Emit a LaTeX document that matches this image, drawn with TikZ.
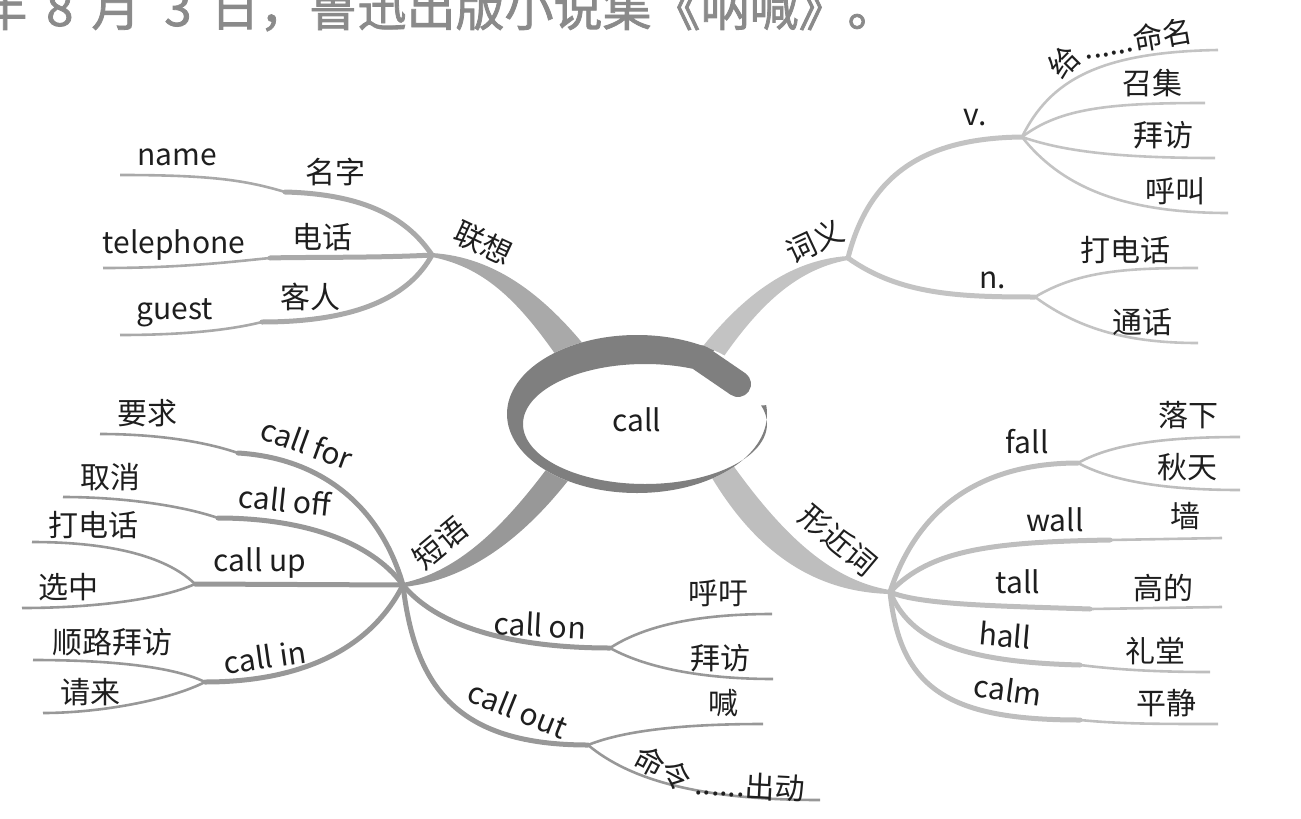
\documentclass[tikz,border=0pt]{standalone}
\usepackage{fontspec}
\setmainfont{Noto Sans CJK SC}
\newfontfamily\headfont[FakeBold=1.6]{Noto Sans CJK SC}
\usepackage{tikz}
\definecolor{MapCore}{HTML}{7F7F7F}
\definecolor{MapLian}{HTML}{A9A9A9}
\definecolor{MapCi}{HTML}{C3C3C3}
\definecolor{MapDuan}{HTML}{989898}
\definecolor{MapXing}{HTML}{BEBEBE}
\definecolor{MapInk}{HTML}{1E1E1E}
\definecolor{MapHead}{HTML}{8A8A8A}

\begin{document}
\begin{tikzpicture}[x=1pt,y=-1pt,
  lbl/.style={text=MapInk,inner sep=0pt,font=\fontsize{30}{34}\selectfont},
  limb/.style={line width=5pt,line cap=round},
  twig/.style={line width=2.6pt}
]
\useasboundingbox (0,0) rectangle (1301,819);
\node[anchor=base west,inner sep=0pt,text=MapHead,font=\headfont\fontsize{49}{52}\selectfont] (head) at (-22,26)
  {年\hspace{19pt}8\hspace{18pt}月\hspace{24pt}3\hspace{19pt}日，鲁迅出版小说集《呐喊》。};

\coordinate (c) at (637,414);
\coordinate (jLian) at (432,255);
\coordinate (jCi) at (848,258);
\coordinate (jDuan) at (403,585);
\coordinate (jXing) at (890,592);

% trunks
\fill[MapLian] (432,253) .. controls (495,257) and (548,295) .. (602,368) -- (574,382) .. controls (524,305) and (488,268) .. (432,257) -- cycle;
\fill[MapCi] (848,256) .. controls (788,260) and (738,298) .. (690,363) -- (710,377) .. controls (752,312) and (792,270) .. (848,260) -- cycle;
\fill[MapDuan] (403,583) .. controls (464,570) and (512,518) .. (562,448) -- (582,462) .. controls (532,532) and (472,580) .. (403,587) -- cycle;
\fill[MapXing] (705,466) .. controls (752,550) and (812,592) .. (890,594) -- (890,590) .. controls (828,580) and (778,530) .. (725,454) -- cycle;

% core
\fill[white] (c) ellipse [x radius=130pt,y radius=79pt];
\begin{scope}
  \clip (c) -- (900,396) -- (900,900) -- (300,900) -- (300,100) -- (900,100) -- (900,197) -- cycle;
  \fill[MapCore,even odd rule] (c) ellipse [x radius=130pt,y radius=79pt] (645,424) ellipse [x radius=122pt,y radius=60pt];
\end{scope}
\draw[MapCore,line width=26pt,line cap=round] (700,358) -- (738,384);
\node[lbl] (core) at (637,420) {call};

% lianxiang
\coordinate (kMing) at (285,192); \coordinate (eName) at (120,175);
\coordinate (kDian) at (270,258); \coordinate (eTel) at (103,268);
\coordinate (kKe) at (262,322);   \coordinate (eGuest) at (120,335);
\draw[MapLian,limb] (jLian) .. controls (405,215) and (360,194) .. (kMing);
\draw[MapLian,limb] (jLian) .. controls (380,258) and (300,257) .. (kDian);
\draw[MapLian,limb] (jLian) .. controls (410,295) and (360,322) .. (kKe);
\draw[MapLian,twig] (kMing) .. controls (245,180) and (210,175) .. (eName);
\draw[MapLian,twig] (kDian) .. controls (230,262) and (180,268) .. (eTel);
\draw[MapLian,twig] (kKe) .. controls (222,332) and (170,335) .. (eGuest);
\node[lbl,rotate=-25] (tLian) at (483,243) {联想};
\node[lbl] (tMing) at (335,172) {名字};
\node[lbl] (tName) at (177,157) {name};
\node[lbl] (tDian) at (322,237) {电话};
\node[lbl] (tTel) at (174,245) {telephone};
\node[lbl] (tKe) at (310,297) {客人};
\node[lbl] (tGuest) at (175,313) {guest};

% ciyi
\coordinate (kV) at (1022,137); \coordinate (kN) at (1035,297);
\coordinate (eGei) at (1218,50);  \coordinate (eZhao) at (1205,103);
\coordinate (eBai) at (1215,158); \coordinate (eHu) at (1228,213);
\coordinate (eDa) at (1198,268);  \coordinate (eTong) at (1198,343);
\draw[MapCi,limb] (jCi) .. controls (870,170) and (930,138) .. (kV);
\draw[MapCi,limb] (jCi) .. controls (900,295) and (960,297) .. (kN);
\draw[MapCi,twig] (kV) .. controls (1050,80) and (1100,52) .. (eGei);
\draw[MapCi,twig] (kV) .. controls (1060,108) and (1110,103) .. (eZhao);
\draw[MapCi,twig] (kV) .. controls (1060,150) and (1110,158) .. (eBai);
\draw[MapCi,twig] (kV) .. controls (1060,185) and (1120,213) .. (eHu);
\draw[MapCi,twig] (kN) .. controls (1080,270) and (1130,268) .. (eDa);
\draw[MapCi,twig] (kN) .. controls (1080,330) and (1130,343) .. (eTong);
\node[lbl,rotate=25] (tCi) at (815,241) {词义};
\node[lbl] (tV) at (975,118) {v.};
\node[lbl] (tN) at (993,280) {n.};
\node[lbl,rotate=45] (tGei) at (1064,62) {给};
\node[lbl,rotate=10] (tMingming) at (1138,39) {......命名};
\node[lbl] (tZhao) at (1152,83) {召集};
\node[lbl] (tBai) at (1163,135) {拜访};
\node[lbl] (tHu) at (1175,191) {呼叫};
\node[lbl] (tDa) at (1125,250) {打电话};
\node[lbl] (tTong) at (1142,322) {通话};

% duanyu
\coordinate (kFor) at (238,453); \coordinate (eFor) at (100,434);
\coordinate (kOff) at (218,518); \coordinate (eOff) at (63,497);
\coordinate (kUp) at (195,584);  \coordinate (eUpA) at (32,542);  \coordinate (eUpB) at (22,608);
\coordinate (kIn) at (205,682);  \coordinate (eInA) at (33,660);  \coordinate (eInB) at (43,713);
\coordinate (kOn) at (610,648);  \coordinate (eOnA) at (772,614); \coordinate (eOnB) at (773,679);
\coordinate (kOut) at (588,745); \coordinate (eOutA) at (763,724); \coordinate (eOutB) at (820,800);
\draw[MapDuan,limb] (jDuan) .. controls (380,505) and (320,458) .. (kFor);
\draw[MapDuan,limb] (jDuan) .. controls (370,540) and (300,518) .. (kOff);
\draw[MapDuan,limb] (jDuan) -- (kUp);
\draw[MapDuan,limb] (jDuan) .. controls (370,650) and (300,682) .. (kIn);
\draw[MapDuan,limb] (jDuan) .. controls (440,630) and (520,648) .. (kOn);
\draw[MapDuan,limb] (jDuan) .. controls (415,690) and (460,745) .. (kOut);
\draw[MapDuan,twig] (kFor) .. controls (200,440) and (150,434) .. (eFor);
\draw[MapDuan,twig] (kOff) .. controls (180,505) and (120,497) .. (eOff);
\draw[MapDuan,twig] (kUp) .. controls (160,550) and (90,542) .. (eUpA);
\draw[MapDuan,twig] (kUp) .. controls (160,600) and (90,608) .. (eUpB);
\draw[MapDuan,twig] (kIn) .. controls (170,665) and (100,660) .. (eInA);
\draw[MapDuan,twig] (kIn) .. controls (170,700) and (100,713) .. (eInB);
\draw[MapDuan,twig] (kOn) .. controls (650,622) and (710,614) .. (eOnA);
\draw[MapDuan,twig] (kOn) .. controls (650,670) and (710,679) .. (eOnB);
\draw[MapDuan,twig] (kOut) .. controls (630,728) and (700,724) .. (eOutA);
\draw[MapDuan,twig] (kOut) .. controls (630,780) and (700,800) .. (eOutB);
\node[lbl,rotate=40] (tDuan) at (440,543) {短语};
\node[lbl,rotate=-20] (tFor) at (307,443) {call for};
\node[lbl] (tYao) at (147,413) {要求};
\node[lbl,rotate=-6] (tOff) at (285,500) {call off};
\node[lbl] (tQu) at (110,477) {取消};
\node[lbl] (tUp) at (260,563) {call up};
\node[lbl] (tDa2) at (93,525) {打电话};
\node[lbl] (tXuan) at (68,587) {选中};
\node[lbl,rotate=8] (tIn) at (265,657) {call in};
\node[lbl] (tShun) at (112,642) {顺路拜访};
\node[lbl] (tQing) at (90,692) {请来};
\node[lbl,rotate=-3] (tOn) at (540,625) {call on};
\node[lbl] (tYu) at (718,593) {呼吁};
\node[lbl] (tBai2) at (720,658) {拜访};
\node[lbl,rotate=-22] (tOut) at (518,709) {call out};
\node[lbl] (tHan) at (723,703) {喊};
\node[lbl,rotate=-28] (tMing2) at (663,768) {命令};
\node[lbl,rotate=-3] (tChu) at (750,786) {......出动};

% xingjinci
\coordinate (kFall) at (1078,463); \coordinate (eFallA) at (1240,437); \coordinate (eFallB) at (1240,490);
\coordinate (kWall) at (1110,540); \coordinate (eWall) at (1222,538);
\coordinate (kTall) at (1090,609); \coordinate (eTall) at (1222,607);
\coordinate (kHall) at (1080,665); \coordinate (eHall) at (1210,672);
\coordinate (kCalm) at (1080,720); \coordinate (eCalm) at (1218,724);
\draw[MapXing,limb] (jXing) .. controls (920,500) and (990,463) .. (kFall);
\draw[MapXing,limb] (jXing) .. controls (930,550) and (990,542) .. (kWall);
\draw[MapXing,limb] (jXing) .. controls (920,605) and (1000,606) .. (kTall);
\draw[MapXing,limb] (jXing) .. controls (910,640) and (960,662) .. (kHall);
\draw[MapXing,limb] (jXing) .. controls (900,690) and (950,720) .. (kCalm);
\draw[MapXing,twig] (kFall) .. controls (1110,445) and (1160,437) .. (eFallA);
\draw[MapXing,twig] (kFall) .. controls (1110,480) and (1160,490) .. (eFallB);
\draw[MapXing,twig] (kWall) -- (eWall);
\draw[MapXing,twig] (kTall) -- (eTall);
\draw[MapXing,twig] (kHall) .. controls (1120,670) and (1160,672) .. (eHall);
\draw[MapXing,twig] (kCalm) .. controls (1120,724) and (1160,724) .. (eCalm);
\node[lbl,rotate=-40] (tXing) at (838,540) {形近词};
\node[lbl] (tFall) at (1027,442) {fall};
\node[lbl] (tLuo) at (1188,415) {落下};
\node[lbl] (tQiu) at (1187,467) {秋天};
\node[lbl] (tWall) at (1055,520) {wall};
\node[lbl] (tQiang) at (1185,516) {墙};
\node[lbl] (tTall) at (1018,582) {tall};
\node[lbl] (tGao) at (1163,588) {高的};
\node[lbl,rotate=-5] (tHall) at (1005,635) {hall};
\node[lbl] (tLi) at (1155,651) {礼堂};
\node[lbl,rotate=-8] (tCalm) at (1008,690) {calm};
\node[lbl] (tPing) at (1166,703) {平静};
\end{tikzpicture}
\end{document}
